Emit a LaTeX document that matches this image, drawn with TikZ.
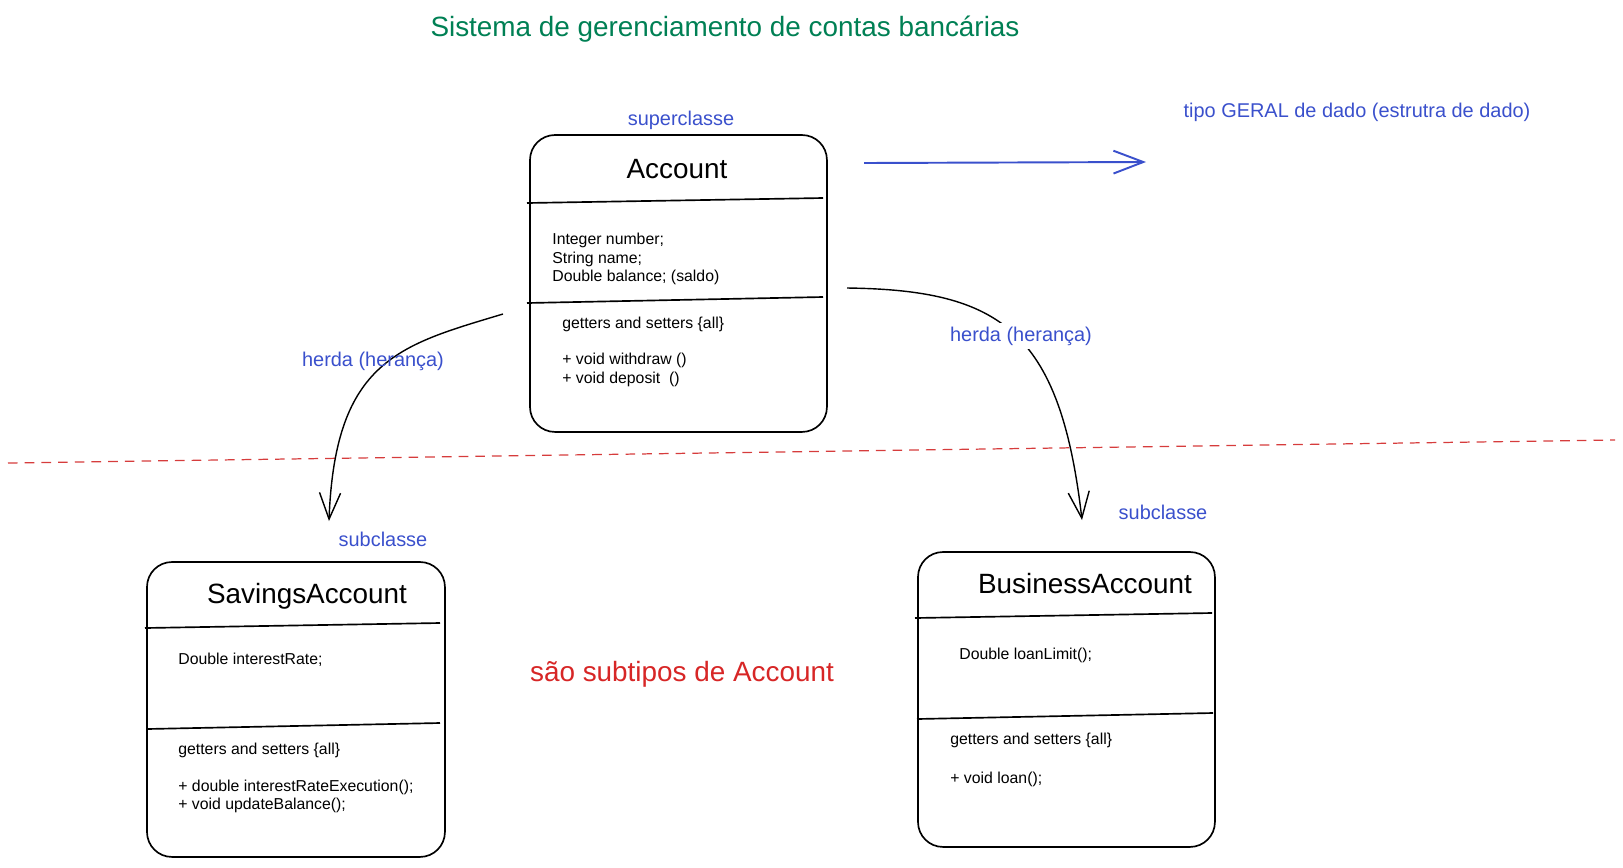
\documentclass[tikz,border=0pt]{standalone}
\usepackage{fontspec}
\setmainfont{Liberation Sans}
\usetikzlibrary{arrows.meta}
\definecolor{titlegreen}{RGB}{0,128,84}
\definecolor{noteblue}{RGB}{58,80,204}
\definecolor{notered}{RGB}{215,38,38}
\definecolor{dashred}{RGB}{214,60,60}
\begin{document}
\begin{tikzpicture}[x=0.02cm, y=-0.02cm,
  classbox/.style={draw=black, line width=0.95pt, rounded corners=0.5cm,
    inner sep=0pt, outer sep=0pt, anchor=north west},
  divider/.style={line width=0.95pt},
  classname/.style={font=\fontsize{15.87}{18}\selectfont, inner sep=0pt, anchor=base},
  member/.style={font=\fontsize{9}{10.5}\selectfont, inner sep=0pt, anchor=base west},
  note/.style={font=\fontsize{11.34}{13}\selectfont, text=noteblue, inner sep=0pt, anchor=base},
  inherit/.style={line width=0.8pt, -{Straight Barb[length=15pt,width=12pt,line width=0.8pt]}}]
\useasboundingbox (0,0) rectangle (1623,867);

% title
\node[font=\fontsize{15.87}{18}\selectfont, text=titlegreen, inner sep=0pt, anchor=base]
  (title) at (725,36) {Sistema de gerenciamento de contas bancárias};

% superclass Account
\node[classbox, minimum width=5.94cm, minimum height=5.94cm] (account) at (530,135) {};
\draw[divider] (527,203) -- (823,198);
\draw[divider] (527,303) -- (823,297);
\node[classname] (accname) at (677,178) {Account};
\node[member] (acc1) at (552,244) {Integer number;};
\node[member] (acc2) at (552,263) {String name;};
\node[member] (acc3) at (552,281) {Double balance; (saldo)};
\node[member] (acc4) at (562,328) {getters and setters \{all\}};
\node[member] (acc5) at (562,364) {+ void withdraw ()};
\node[member] (acc6) at (562,383) {+ void deposit\ \ ()};
\node[note] (super) at (681,125) {superclasse};

% general data type note
\node[note] (tipo) at (1357,117) {tipo GERAL de dado (estrutra de dado)};
\coordinate (blueA) at (864,163);
\coordinate (blueB) at (1146,162);
\draw[noteblue, line width=1.1pt, -{Straight Barb[length=17pt,width=13pt,line width=1.1pt]}] (blueA) -- (blueB);

% subclass SavingsAccount
\node[classbox, minimum width=5.96cm, minimum height=5.9cm] (savings) at (147,562) {};
\draw[divider] (145,628) -- (440,623);
\draw[divider] (147,729) -- (440,723);
\node[classname] (savname) at (307,603) {SavingsAccount};
\node[member] (sav1) at (178,664) {Double interestRate;};
\node[member] (sav2) at (178,754) {getters and setters \{all\}};
\node[member] (sav3) at (178,791) {+ double interestRateExecution();};
\node[member] (sav4) at (178,809) {+ void updateBalance();};
\node[note] (subL) at (383,546) {subclasse};

% subclass BusinessAccount
\node[classbox, minimum width=5.94cm, minimum height=5.9cm] (business) at (918,552) {};
\draw[divider] (915,618) -- (1212,613);
\draw[divider] (917,719) -- (1213,713);
\node[classname] (busname) at (1085,593) {BusinessAccount};
\node[member] (bus1) at (959,659) {Double loanLimit();};
\node[member] (bus2) at (950,744) {getters and setters \{all\}};
\node[member] (bus3) at (950,783) {+ void loan();};
\node[note] (subR) at (1163,519) {subclasse};

% separator between super and subclasses
\coordinate (sepA) at (8,463);
\coordinate (sepB) at (1615,440);
\draw[dashred, line width=0.7pt, dash pattern=on 5.5pt off 4pt] (sepA) -- (sepB);

% inheritance arrows
\coordinate (inhLs) at (503,314);
\coordinate (inhLe) at (329,521);
\draw[inherit] (inhLs) .. controls (400,345) and (335,360) .. (inhLe);
\node[note] (herdaL) at (373,366) {herda (herança)};

\coordinate (inhRs) at (847,288);
\coordinate (inhRe) at (1082,520);
\draw[inherit] (inhRs) .. controls (1000,290) and (1060,330) .. (inhRe);
\node[note, fill=white, inner sep=2pt] (herdaR) at (1021,341) {herda (herança)};

\node[font=\fontsize{15.87}{18}\selectfont, text=notered, inner sep=0pt, anchor=base]
  (subtipos) at (682,681) {são subtipos de Account};
\end{tikzpicture}
\end{document}
